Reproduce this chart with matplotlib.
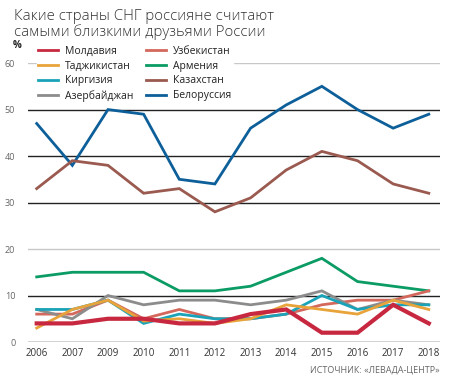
import matplotlib.pyplot as plt
import numpy as np

plt.rcParams['font.family'] = ['Open Sans', 'DejaVu Sans']

years = ['2006', '2007', '2009', '2010', '2011', '2012', '2013', '2014', '2015', '2016', '2017', '2018']

# values, %
moldova = [4, 4, 5, 5, 4, 4, 6, 7, 2, 2, 8, 4]
tajik = [3, 7, 9, 4.5, 5, 4, 5, 8, 7, 6, 9, 7]
kyrgyz = [7, 7, 9, 4, 6, 5, 5, 6, 10, 7, 8, 8]
azer = [7, 5, 10, 8, 9, 9, 8, 9, 11, 7, 9, 8]
uzbek = [6, 6, 9, 5, 7, 5, 5, 6, 8, 9, 9, 11]
armenia = [14, 15, 15, 15, 11, 11, 12, 15, 18, 13, 12, 11]
kazakh = [33, 39, 38, 32, 33, 28, 31, 37, 41, 39, 34, 32]
belarus = [47, 38, 50, 49, 35, 34, 46, 51, 55, 50, 46, 49]

names = ['Молдавия', 'Таджикистан', 'Киргизия', 'Азербайджан',
         'Узбекистан', 'Армения', 'Казахстан', 'Белоруссия']
series = [moldova, tajik, kyrgyz, azer, uzbek, armenia, kazakh, belarus]
colors = ['#c8283f', '#e8a33a', '#1aa3b8', '#8c8c8c',
          '#d4685c', '#0b9b64', '#9a5a50', '#0d5f9a']
widths = [3.0, 2.0, 2.0, 2.0, 2.0, 2.0, 2.0, 2.0]

fig = plt.figure(figsize=(4.63, 3.8), dpi=100)
ax = fig.add_axes([0.060, 0.10, 0.890, 0.734])

x = np.arange(len(years))

# grid: 20 and 60 are light, rest dark
for v in [0, 10, 20, 30, 40, 50, 60]:
    c = '#c8c8c8' if v in (20, 60) else '#222222'
    ax.axhline(v, color=c, lw=1.0, zorder=0)

handles = {}
order = [7, 6, 5, 4, 3, 2, 1, 0]
for i in order:
    ln, = ax.plot(x, series[i], color=colors[i], lw=widths[i],
                  solid_joinstyle='miter', zorder=2 + (8 - i))
    handles[i] = ln

ax.set_xlim(-0.25, 11.31)
ax.set_ylim(0, 60)
ax.set_xticks(x)
ax.set_xticklabels(years, fontsize=7, color='#333333')
ax.set_yticks([0, 10, 20, 30, 40, 50, 60])
ax.set_yticklabels(['0', '10', '20', '30', '40', '50', '60'], fontsize=6.5, color='#666666')
ax.tick_params(length=0, pad=4)
ax.tick_params(axis='y', pad=9)
for s in ax.spines.values():
    s.set_visible(False)

leg = fig.legend([handles[i] for i in range(8)], names, ncol=2,
                 loc='upper left', bbox_to_anchor=(0.068, 0.897),
                 frameon=True, framealpha=1, edgecolor='white', facecolor='white',
                 fontsize=7.5, handlelength=1.9, handletextpad=0.7,
                 columnspacing=1.2, labelspacing=0.36, borderpad=0.15)
leg.set_zorder(20)
for t in leg.get_texts():
    t.set_color('#222222')
for lh in leg.get_lines():
    lh.set_linewidth(2.0)

fig.text(0.03, 0.975, 'Какие страны СНГ россияне считают\nсамыми близкими друзьями России',
         fontsize=10.8, color='#333333', va='top', ha='left', linespacing=0.95,
         fontweight='light')
fig.text(0.028, 0.875, '%', fontsize=7, color='#222222', fontweight='bold')
fig.text(0.95, 0.02, 'ИСТОЧНИК: «ЛЕВАДА-ЦЕНТР»', fontsize=6.5, color='#666666', ha='right')

fig.savefig('out.png', dpi=100)
